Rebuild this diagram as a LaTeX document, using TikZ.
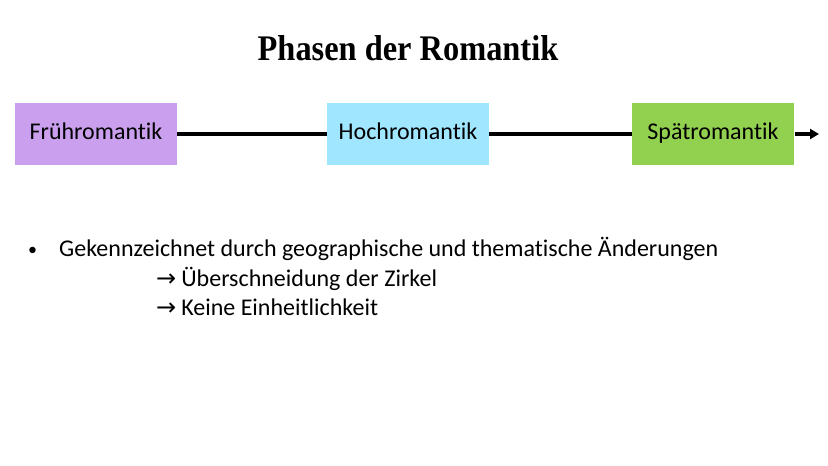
\documentclass[tikz,border=0pt]{standalone}
\usepackage{fontspec}
\setmainfont{Carlito}[RawFeature={-liga}]
\newfontfamily\titlefont{Liberation Serif}
\newfontfamily\symfont{DejaVu Sans}
\usetikzlibrary{arrows.meta}
\definecolor{fruehc}{RGB}{202,160,238}
\definecolor{hochc}{RGB}{160,230,255}
\definecolor{spaetc}{RGB}{146,208,80}
\tikzset{
  phase/.style={draw=none, minimum width=162pt, minimum height=62pt, inner sep=0pt, text height=16pt, text depth=5pt, font=\fontsize{24}{28}\selectfont},
  link/.style={line width=3.5pt, black},
  txt/.style={anchor=base west, inner sep=0pt, font=\fontsize{24}{28}\selectfont}
}
\newcommand{\sarrow}{{\symfont\fontsize{24}{24}\selectfont →}\hspace{5pt}}
\begin{document}
\begin{tikzpicture}[x=1pt,y=-1pt]
\useasboundingbox (0,0) rectangle (828,466);
\node[inner sep=0pt, font=\titlefont\bfseries\fontsize{36}{40}\selectfont] (title) at (408,48) {\scalebox{0.9}[1]{Phasen der Romantik}};
\node[phase, fill=fruehc] (f) at (96,134) {Frühromantik};
\node[phase, fill=hochc] (h) at (408,134) {Hochromantik};
\node[phase, fill=spaetc] (s) at (713,134) {Spätromantik};
\coordinate (e) at (819,134);
\draw[link] (f) -- (h);
\draw[link] (h) -- (s);
\draw[link, shorten <=1pt, -{Triangle[length=9pt,width=10pt]}] (s) -- (e);
\node[txt, font=\fontsize{18}{20}\selectfont] (b) at (28,255) {•};
\node[txt] (l1) at (59,256) {Gekennzeichnet durch geographische und thematische Änderungen};
\node[txt] (l2) at (156,286) {\sarrow Überschneidung der Zirkel};
\node[txt] (l3) at (156,315) {\sarrow Keine Einheitlichkeit};
\end{tikzpicture}
\end{document}
